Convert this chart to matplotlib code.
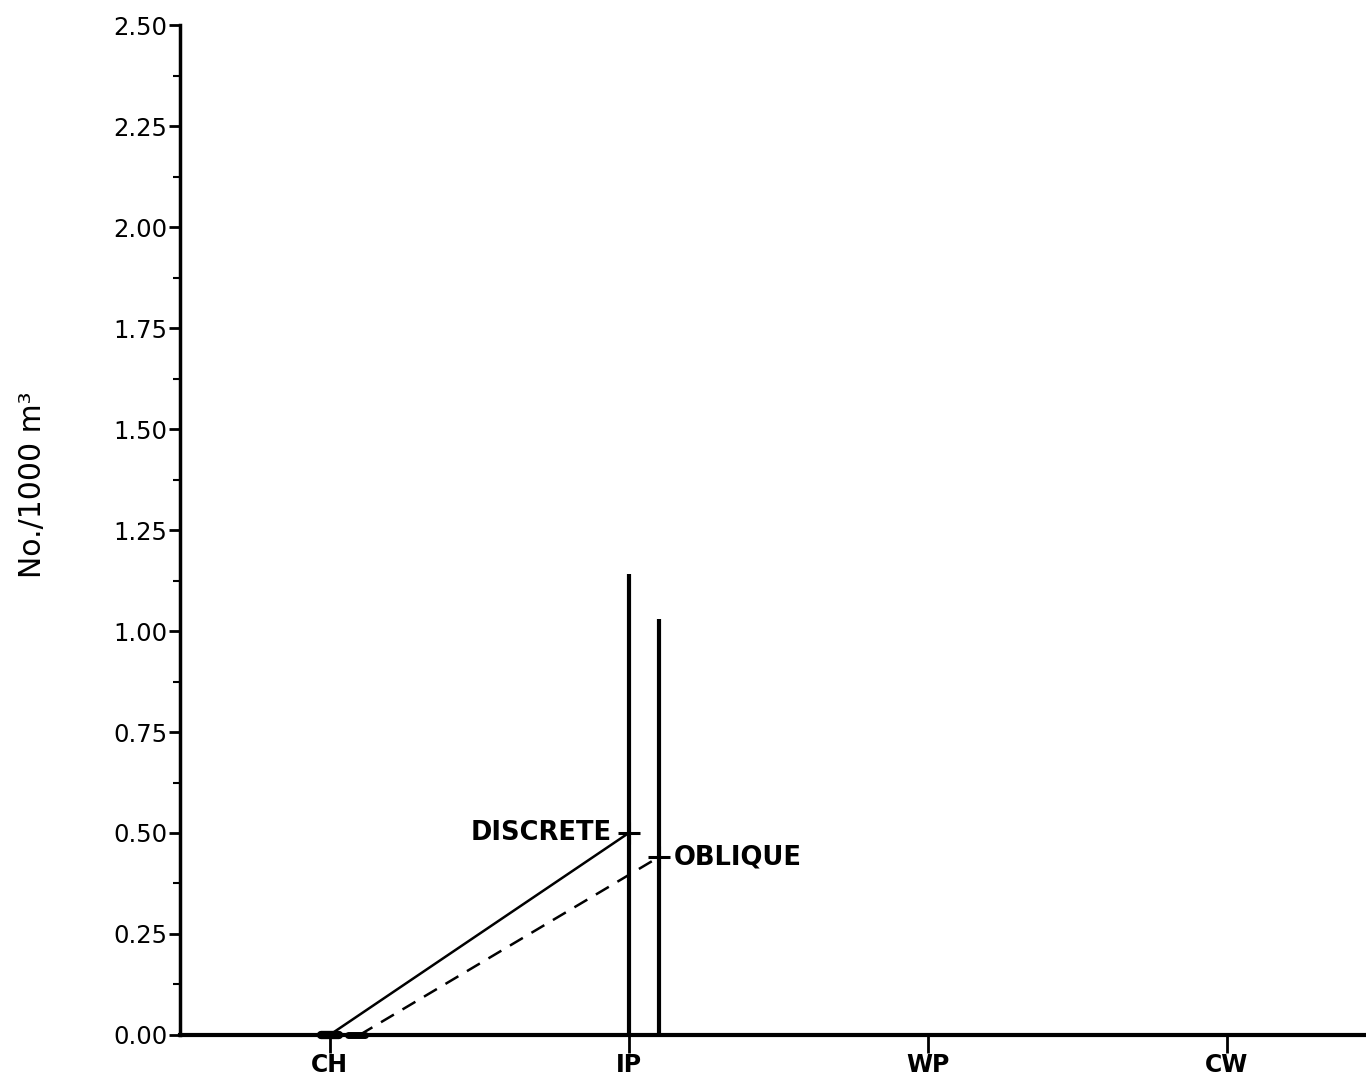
import matplotlib.pyplot as plt
from matplotlib.ticker import MultipleLocator, FormatStrFormatter

# stations along the transect
stations = ["CH", "IP", "WP", "CW"]

# mean density (No./1000 m3) and error per sampling method
discrete_x = [0, 1]
discrete_mean = [0.0, 0.50]
discrete_err = [0.0, 0.64]

oblique_x = [0.1, 1.1]
oblique_mean = [0.0, 0.44]
oblique_err = [0.0, 0.59]

plt.rcParams['font.family'] = ['DejaVu Sans']

fig = plt.figure(figsize=(13.66, 10.89), dpi=100)
ax = fig.add_axes([0.1318, 0.0496, 0.8682, 0.9274])

# solid line for discrete samples
ax.errorbar(discrete_x, discrete_mean, yerr=discrete_err, color="black",
            lw=1.8, ls="-", marker="+", ms=16, mew=2.2, markevery=[1],
            ecolor="black", elinewidth=3, capsize=0)
# dashed line for oblique tows
ax.errorbar(oblique_x, oblique_mean, yerr=oblique_err, color="black",
            lw=1.8, ls=(0, (6, 4)), marker="+", ms=16, mew=2.2, markevery=[1],
            ecolor="black", elinewidth=3, capsize=0)

# thick blobs where the CH means sit on the axis
ax.plot([discrete_x[0] - 0.03, discrete_x[0] + 0.03], [discrete_mean[0]] * 2,
        color="black", lw=6, solid_capstyle="round", clip_on=False)
ax.plot([oblique_x[0] - 0.04, oblique_x[0] + 0.02], [oblique_mean[0]] * 2,
        color="black", lw=5, solid_capstyle="round", clip_on=False)

ax.text(discrete_x[1] - 0.055, discrete_mean[1], "DISCRETE", ha="right",
        va="center", fontsize=18.5, fontweight="bold")
ax.text(oblique_x[1] + 0.05, oblique_mean[1], "OBLIQUE", ha="left",
        va="center", fontsize=18.5, fontweight="bold")

ax.set_xlim(-0.5, 3.465)
ax.set_ylim(0, 2.5)
ax.set_xticks(range(len(stations)))
ax.set_xticklabels(stations, fontsize=17, fontweight="bold")
ax.yaxis.set_major_locator(MultipleLocator(0.25))
ax.yaxis.set_minor_locator(MultipleLocator(0.125))
ax.yaxis.set_major_formatter(FormatStrFormatter("%.2f"))
ax.tick_params(axis="y", which="major", direction="out", length=8, width=2,
               labelsize=17.5, pad=1)
ax.tick_params(axis="y", which="minor", direction="out", length=5, width=1.5)
ax.tick_params(axis="x", direction="out", length=13, width=2, pad=0)

ax.set_ylabel("No./1000 m³", fontsize=21.5)
ax.yaxis.set_label_coords(-0.112, 0.545)

for side in ["top", "right"]:
    ax.spines[side].set_visible(False)
ax.spines["left"].set_linewidth(2.5)
ax.spines["bottom"].set_linewidth(3)

fig.savefig("out.png", dpi=100)
